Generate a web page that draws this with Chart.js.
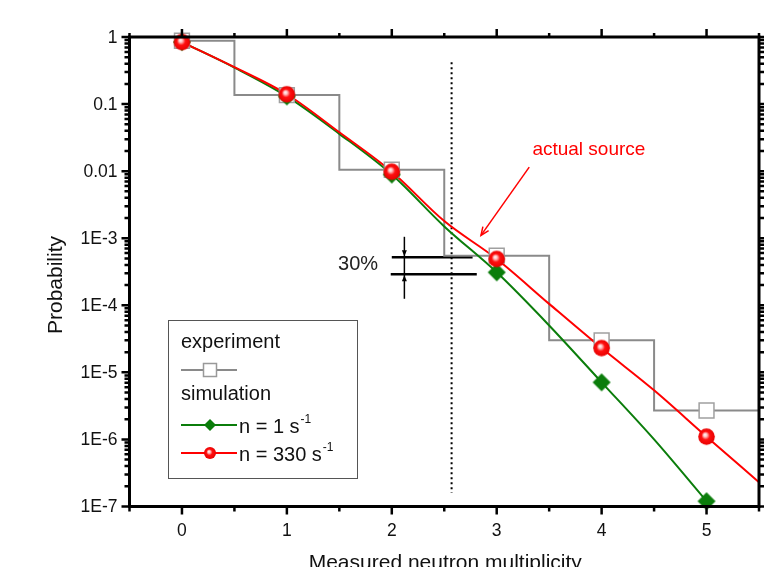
<!DOCTYPE html>
<html><head><meta charset="utf-8">
<script src="https://cdn.jsdelivr.net/npm/chart.js@4/dist/chart.umd.min.js"></script>
<style>html,body{margin:0;padding:0;background:#fff;}canvas{display:block}</style>
</head><body>
<canvas id="c" width="764" height="567"></canvas>
<script>
// ---- data ----
const multiplicity = [0, 1, 2, 3, 4, 5];
const experiment   = [0.88, 0.136, 0.0105, 5.5e-4, 3.0e-5, 2.7e-6];
const simX    = [0, 0.5, 1, 1.5, 2, 2.5, 3, 3.5, 4, 4.5, 5, 5.5];
const simN1   = [0.84, 0.35, 0.13, 0.036, 0.0089, 0.0015, 3.1e-4, 5.0e-5, 7.1e-6, 1.0e-6, 1.2e-7, null];
const simN330 = [0.84, 0.355, 0.14, 0.038, 0.0098, 0.0018, 4.9e-4, 1.05e-4, 2.3e-5, 5.4e-6, 1.1e-6, 2.3e-7];
const xTickValues = [0, 1, 2, 3, 4, 5];
const xTickLabels = ['0', '1', '2', '3', '4', '5'];
const yTickValues = [1, 0.1, 0.01, 1e-3, 1e-4, 1e-5, 1e-6, 1e-7];
const yTickLabels = ['1', '0.1', '0.01', '1E-3', '1E-4', '1E-5', '1E-6', '1E-7'];
const xTitle = 'Measured neutron multiplicity';
const yTitle = 'Probability';
const legendTitles = ['experiment', 'simulation'];
const seriesLabels = ['n = 1 s', 'n = 330 s'];
const annotationText = ['30%', 'actual source'];
const thresholdX = 2.57;

// ---- build datasets from arrays ----
const stepPts = [];
multiplicity.forEach((c, i) => {
  stepPts.push({x: i === 0 ? c : c - 0.5, y: experiment[i]});
  stepPts.push({x: c + 0.5, y: experiment[i]});
});
const toPts = (xa, ya) => xa.map((x, i) => ({x, y: ya[i]})).filter(p => p.y !== null);
const atInts = ya => simX.map((x, i) => ({x, y: ya[i]})).filter(p => Number.isInteger(p.x) && p.y !== null);

const GRAY = '#8a8a8a', GREEN = '#0b7d0b', RED = '#ff0000';
const FONT = '"Liberation Sans", Arial, sans-serif';

function sphere(r) {
  const cv = document.createElement('canvas');
  const s = Math.ceil(r * 2 + 2);
  cv.width = s; cv.height = s;
  const g = cv.getContext('2d');
  const c = s / 2;
  const grd = g.createRadialGradient(c - r * 0.2, c - r * 0.25, 0, c, c, r);
  grd.addColorStop(0, '#ffffff');
  grd.addColorStop(0.22, '#ffc0c0');
  grd.addColorStop(0.5, '#ff1010');
  grd.addColorStop(1, '#e80000');
  g.fillStyle = grd;
  g.beginPath(); g.arc(c, c, r, 0, Math.PI * 2); g.fill();
  return cv;
}
function diamond(h, color) {
  const cv = document.createElement('canvas');
  const s = Math.ceil(h * 2 + 2);
  cv.width = s; cv.height = s;
  const g = cv.getContext('2d');
  const c = s / 2;
  g.fillStyle = color;
  g.beginPath(); g.moveTo(c, c - h); g.lineTo(c + h, c); g.lineTo(c, c + h); g.lineTo(c - h, c); g.closePath(); g.fill();
  return cv;
}
const bigSphere = sphere(8.3);
const smallSphere = sphere(6);
const bigDiamond = diamond(9, GREEN);
const smallDiamond = diamond(6, GREEN);

const decor = {
  id: 'decor',
  beforeDatasetsDraw(chart) {
    const ctx = chart.ctx, xs = chart.scales.x, ys = chart.scales.y;
    const X = v => xs.getPixelForValue(v), Y = v => ys.getPixelForValue(v);
    ctx.save();
    ctx.strokeStyle = '#000'; ctx.lineWidth = 2; ctx.setLineDash([2, 3]);
    ctx.beginPath(); ctx.moveTo(X(thresholdX), Y(0.42)); ctx.lineTo(X(thresholdX), Y(1.6e-7)); ctx.stroke();
    ctx.setLineDash([]);
    ctx.lineWidth = 2.5;
    ctx.beginPath();
    ctx.moveTo(X(2.0), Y(5.2e-4)); ctx.lineTo(X(2.77), Y(5.2e-4));
    ctx.moveTo(X(1.99), Y(2.9e-4)); ctx.lineTo(X(2.81), Y(2.9e-4));
    ctx.stroke();
    ctx.lineWidth = 1.5;
    const vx = X(2.12);
    ctx.beginPath(); ctx.moveTo(vx, Y(1.05e-3)); ctx.lineTo(vx, Y(1.25e-4)); ctx.stroke();
    ctx.fillStyle = '#000';
    const yA = Y(5.2e-4), yB = Y(2.9e-4);
    ctx.beginPath(); ctx.moveTo(vx - 2.5, yA - 7); ctx.lineTo(vx + 2.5, yA - 7); ctx.lineTo(vx, yA - 1); ctx.fill();
    ctx.beginPath(); ctx.moveTo(vx - 2.5, yB + 7); ctx.lineTo(vx + 2.5, yB + 7); ctx.lineTo(vx, yB + 1); ctx.fill();
    ctx.font = '20px ' + FONT; ctx.textAlign = 'right'; ctx.textBaseline = 'middle';
    ctx.fillStyle = '#222';
    ctx.fillText(annotationText[0], X(1.87), Y(4.1e-4));
    ctx.fillStyle = RED; ctx.textAlign = 'left';
    ctx.font = '19px ' + FONT;
    ctx.fillText(annotationText[1], X(3.34), Y(0.0205));
    ctx.strokeStyle = RED; ctx.lineWidth = 1.5;
    const ax0 = X(3.31), ay0 = Y(0.0115), ax1 = X(2.85), ay1 = Y(1.1e-3);
    ctx.beginPath(); ctx.moveTo(ax0, ay0); ctx.lineTo(ax1, ay1); ctx.stroke();
    const ang = Math.atan2(ay1 - ay0, ax1 - ax0);
    ctx.beginPath();
    ctx.moveTo(ax1 - 9 * Math.cos(ang - 0.4), ay1 - 9 * Math.sin(ang - 0.4));
    ctx.lineTo(ax1, ay1);
    ctx.lineTo(ax1 - 9 * Math.cos(ang + 0.4), ay1 - 9 * Math.sin(ang + 0.4));
    ctx.stroke();
    ctx.restore();
  },
  afterDraw(chart) {
    const ctx = chart.ctx, xs = chart.scales.x, ys = chart.scales.y, a = chart.chartArea;
    const X = v => xs.getPixelForValue(v), Y = v => ys.getPixelForValue(v);
    ctx.save();
    ctx.strokeStyle = '#000'; ctx.lineWidth = 3;
    ctx.strokeRect(a.left, a.top, a.right - a.left, a.bottom - a.top);
    ctx.lineWidth = 2.5;
    ctx.beginPath();
    for (let v = -0.5; v <= 5.5 + 1e-9; v += 0.5) {
      const px = X(v), major = Number.isInteger(v);
      ctx.moveTo(px, a.bottom); ctx.lineTo(px, a.bottom + (major ? 8 : 5));
      ctx.moveTo(px, a.top); ctx.lineTo(px, a.top - (major ? 8 : 4));
    }
    for (let d = -7; d <= 0; d++) {
      const py = Y(Math.pow(10, d));
      ctx.moveTo(a.left, py); ctx.lineTo(a.left - 8, py);
      ctx.moveTo(a.right, py); ctx.lineTo(a.right + 8, py);
      if (d < 0) for (let m = 2; m <= 9; m++) {
        const pm = Y(m * Math.pow(10, d));
        ctx.moveTo(a.left, pm); ctx.lineTo(a.left - 5, pm);
        ctx.moveTo(a.right, pm); ctx.lineTo(a.right + 5, pm);
      }
    }
    ctx.stroke();
    ctx.fillStyle = '#111';
    ctx.font = '17.5px ' + FONT;
    ctx.textAlign = 'center'; ctx.textBaseline = 'alphabetic';
    xTickValues.forEach((v, i) => ctx.fillText(xTickLabels[i], X(v), 536));
    ctx.textAlign = 'right'; ctx.textBaseline = 'middle';
    yTickValues.forEach((v, i) => ctx.fillText(yTickLabels[i], a.left - 12, Y(v) + 1));
    ctx.font = '21px ' + FONT;
    ctx.textAlign = 'center'; ctx.textBaseline = 'alphabetic';
    ctx.fillText(xTitle, (X(0) + X(5)) / 2 + 1, 569);
    ctx.save();
    ctx.translate(62, 285); ctx.rotate(-Math.PI / 2);
    ctx.fillText(yTitle, 0, 0);
    ctx.restore();
    // legend
    const L = 168, T = 320, R = 357, B = 478;
    ctx.fillStyle = '#fff'; ctx.fillRect(L, T, R - L, B - T);
    ctx.strokeStyle = '#555'; ctx.lineWidth = 1;
    ctx.strokeRect(L + 0.5, T + 0.5, R - L, B - T);
    ctx.fillStyle = '#111'; ctx.font = '20px ' + FONT;
    ctx.textAlign = 'left'; ctx.textBaseline = 'alphabetic';
    ctx.fillText(legendTitles[0], 181, 348);
    ctx.fillText(legendTitles[1], 181, 400);
    const lx0 = 181, lx1 = 237, lxc = 210;
    ctx.strokeStyle = GRAY; ctx.lineWidth = 2;
    ctx.beginPath(); ctx.moveTo(lx0, 370); ctx.lineTo(lx1, 370); ctx.stroke();
    ctx.fillStyle = '#fff'; ctx.strokeStyle = '#999'; ctx.lineWidth = 1.5;
    ctx.fillRect(lxc - 6.5, 370 - 6.5, 13, 13); ctx.strokeRect(lxc - 6.5, 370 - 6.5, 13, 13);
    ctx.strokeStyle = GREEN; ctx.lineWidth = 2;
    ctx.beginPath(); ctx.moveTo(lx0, 425); ctx.lineTo(lx1, 425); ctx.stroke();
    ctx.drawImage(smallDiamond, lxc - smallDiamond.width / 2, 425 - smallDiamond.height / 2);
    ctx.strokeStyle = RED;
    ctx.beginPath(); ctx.moveTo(lx0, 453); ctx.lineTo(lx1, 453); ctx.stroke();
    ctx.drawImage(smallSphere, lxc - smallSphere.width / 2, 453 - smallSphere.height / 2);
    ctx.fillStyle = '#111';
    [[seriesLabels[0], 433], [seriesLabels[1], 461]].forEach(([t, by]) => {
      ctx.font = '20px ' + FONT;
      ctx.fillText(t, 239, by);
      const w = ctx.measureText(t).width;
      ctx.font = '12px ' + FONT;
      ctx.fillText('-1', 239 + w + 1, by - 10);
    });
    ctx.restore();
  }
};

new Chart(document.getElementById('c'), {
  type: 'line',
  data: {
    datasets: [
      {label: 'n = 330 markers', data: atInts(simN330), showLine: false, pointStyle: bigSphere, pointRadius: 9, order: 0, clip: false},
      {label: 'n = 1 markers', data: atInts(simN1), showLine: false, pointStyle: bigDiamond, pointRadius: 9, order: 1, clip: false},
      {label: 'experiment markers', data: multiplicity.map((x, i) => ({x, y: experiment[i]})), showLine: false,
        pointStyle: 'rect', pointRadius: 10.5, pointBackgroundColor: '#fff', pointBorderColor: '#a0a0a0', pointBorderWidth: 1.5, order: 2, clip: false},
      {label: 'n = 330 s-1', data: toPts(simX, simN330), borderColor: RED, borderWidth: 2, pointRadius: 0, cubicInterpolationMode: 'monotone', order: 3, clip: false},
      {label: 'n = 1 s-1', data: toPts(simX, simN1), borderColor: GREEN, borderWidth: 2, pointRadius: 0, cubicInterpolationMode: 'monotone', order: 4, clip: false},
      {label: 'experiment', data: stepPts, borderColor: GRAY, borderWidth: 2, pointRadius: 0, tension: 0, order: 5, clip: false}
    ]
  },
  options: {
    responsive: false, animation: false, events: [],
    layout: {autoPadding: false, padding: {left: 129.5, right: 5, top: 37, bottom: 60.5}},
    plugins: {legend: {display: false}, tooltip: {enabled: false}},
    scales: {
      x: {type: 'linear', min: -0.5, max: 5.5, display: false},
      y: {type: 'logarithmic', min: 1e-7, max: 1, display: false}
    }
  },
  plugins: [decor]
});
</script>
</body></html>
